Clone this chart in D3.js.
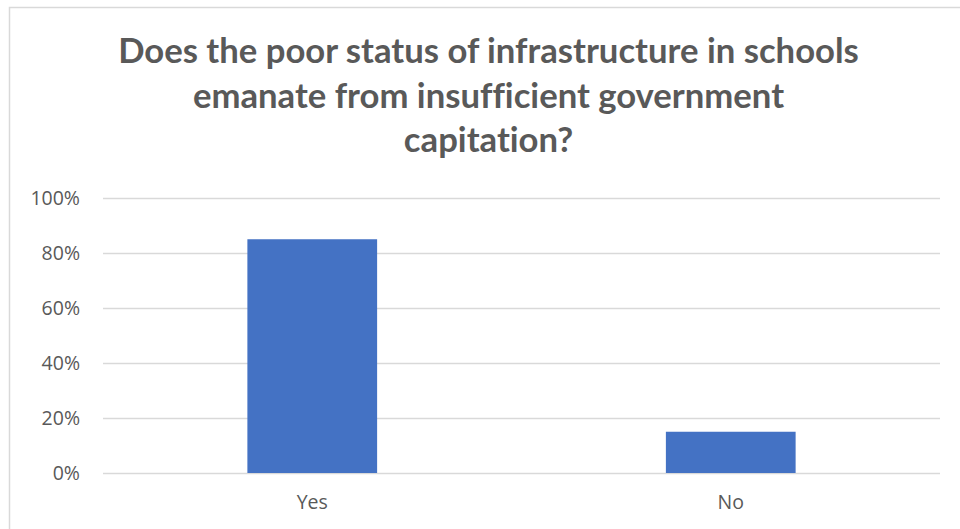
<!DOCTYPE html>
<html>
<head>
<meta charset="utf-8">
<script src="https://cdn.jsdelivr.net/npm/d3@7"></script>
<style>
  html, body { margin: 0; padding: 0; background: #fff; }
  svg { display: block; }
  text { font-variant-ligatures: none; font-feature-settings: "liga" 0; }
</style>
</head>
<body>
<svg id="chart" width="960" height="529"></svg>
<script>
// Survey responses
const categories = ["Yes", "No"];
const shares = [0.85, 0.15];
const tickValues = [0, 0.2, 0.4, 0.6, 0.8, 1.0];
const titleLines = [
  "Does the poor status of infrastructure in schools",
  "emanate from insufficient government",
  "capitation?"
];

const TITLE_FONT = "Lato, 'Open Sans', sans-serif";
const AXIS_FONT = "'Open Sans', sans-serif";
const svg = d3.select("#chart");
const plot = { left: 103, right: 940, top: 198, bottom: 473 };

// Chart frame (runs off the right and bottom edges)
svg.append("rect")
  .attr("x", 9.5).attr("y", 7.5)
  .attr("width", 1000).attr("height", 1000)
  .attr("fill", "#fff")
  .attr("stroke", "#d9d9d9").attr("stroke-width", 1.5);

// Title
const title = svg.append("g").attr("font-family", TITLE_FONT)
  .attr("font-weight", 700).attr("fill", "#595959").attr("text-anchor", "middle");
const titleTexts = title.selectAll("text").data(titleLines).join("text")
  .attr("x", 488.5)
  .attr("y", (d, i) => 63 + i * 44.5)
  .attr("font-size", 30)
  .text(d => d);
// Size the title so the first line spans the intended width
const w0 = titleTexts.node().getComputedTextLength();
titleTexts.attr("font-size", 30 * 741 / w0);

const x = d3.scaleBand()
  .domain(categories)
  .range([plot.left, plot.right])
  .paddingInner(0.69)
  .paddingOuter(0.345);

const y = d3.scaleLinear().domain([0, 1]).range([plot.bottom, plot.top]);

// Gridlines and y labels
const yAxis = d3.axisLeft(y)
  .tickValues(tickValues)
  .tickSize(-(plot.right - plot.left))
  .tickPadding(23)
  .tickFormat(d3.format(".0%"));

const gy = svg.append("g")
  .attr("transform", `translate(${plot.left},0)`)
  .call(yAxis);
gy.select(".domain").remove();
gy.selectAll(".tick line").attr("stroke", "#d9d9d9").attr("stroke-width", 1.3);
gy.selectAll(".tick text")
  .attr("fill", "#595959")
  .attr("font-family", AXIS_FONT)
  .attr("font-size", 19.5);

// Bars
svg.append("g").selectAll("rect")
  .data(categories.map((c, i) => ({ c, v: shares[i] })))
  .join("rect")
  .attr("x", d => x(d.c))
  .attr("width", x.bandwidth())
  .attr("y", d => y(d.v))
  .attr("height", d => y(0) - y(d.v))
  .attr("fill", "#4472c4");

// Category labels
const xAxis = d3.axisBottom(x).tickSize(0).tickPadding(22);
const gx = svg.append("g")
  .attr("transform", `translate(0,${plot.bottom})`)
  .call(xAxis);
gx.select(".domain").remove();
gx.selectAll(".tick text")
  .attr("fill", "#595959")
  .attr("font-family", AXIS_FONT)
  .attr("font-size", 19.5);
</script>
</body>
</html>
